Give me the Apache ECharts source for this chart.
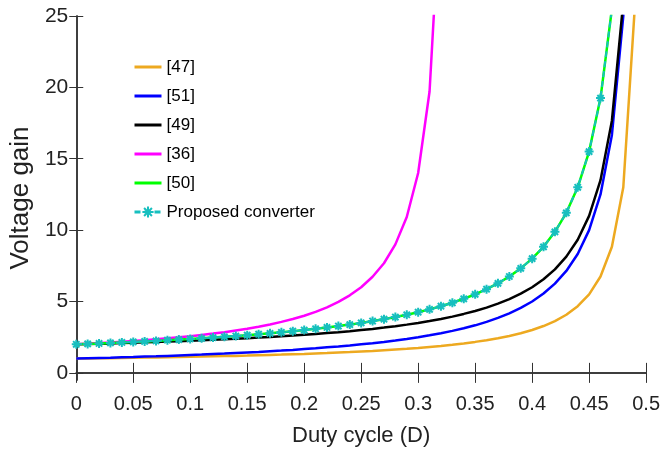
<!DOCTYPE html>
<html>
<head>
<meta charset="utf-8">
<script src="https://cdn.jsdelivr.net/npm/echarts@6/dist/echarts.min.js"></script>
<style>
  html, body { margin: 0; padding: 0; background: #fff; }
  #contain { width: 663px; height: 459px; }
</style>
</head>
<body>
<div id="contain"></div>
<script>
// duty cycle samples, step 0.01
const duty = [0, 0.01, 0.02, 0.03, 0.04, 0.05, 0.06, 0.07, 0.08, 0.09,
  0.10, 0.11, 0.12, 0.13, 0.14, 0.15, 0.16, 0.17, 0.18, 0.19,
  0.20, 0.21, 0.22, 0.23, 0.24, 0.25, 0.26, 0.27, 0.28, 0.29,
  0.30, 0.31, 0.32, 0.33, 0.34, 0.35, 0.36, 0.37, 0.38, 0.39,
  0.40, 0.41, 0.42, 0.43, 0.44, 0.45, 0.46, 0.47, 0.48, 0.49]

const ref47 = [1.00, 1.01, 1.02, 1.03, 1.04, 1.06, 1.07, 1.08, 1.10, 1.11,
  1.13, 1.14, 1.16, 1.18, 1.19, 1.21, 1.24, 1.26, 1.28, 1.31,
  1.33, 1.36, 1.39, 1.43, 1.46, 1.50, 1.54, 1.59, 1.64, 1.69,
  1.75, 1.82, 1.89, 1.97, 2.06, 2.17, 2.29, 2.42, 2.58, 2.77,
  3.00, 3.28, 3.63, 4.07, 4.67, 5.50, 6.75, 8.83, 13.0, 25.5]
const ref51 = [1.00, 1.02, 1.04, 1.06, 1.09, 1.11, 1.14, 1.16, 1.19, 1.22,
  1.25, 1.28, 1.32, 1.35, 1.39, 1.43, 1.47, 1.52, 1.56, 1.61,
  1.67, 1.72, 1.79, 1.85, 1.92, 2.00, 2.08, 2.17, 2.27, 2.38,
  2.50, 2.63, 2.78, 2.94, 3.13, 3.33, 3.57, 3.85, 4.17, 4.55,
  5.00, 5.56, 6.25, 7.14, 8.33, 10.0, 12.5, 16.67, 25.0, 50.0]
const ref49 = [2.00, 2.02, 2.04, 2.06, 2.09, 2.11, 2.14, 2.16, 2.19, 2.22,
  2.25, 2.28, 2.32, 2.35, 2.39, 2.43, 2.47, 2.52, 2.56, 2.61,
  2.67, 2.72, 2.79, 2.85, 2.92, 3.00, 3.08, 3.17, 3.27, 3.38,
  3.50, 3.63, 3.78, 3.94, 4.13, 4.33, 4.57, 4.85, 5.17, 5.55,
  6.00, 6.56, 7.25, 8.14, 9.33, 11.0, 13.5, 17.67, 26.0]
const ref36 = [2.00, 2.04, 2.09, 2.13, 2.18, 2.24, 2.29, 2.35, 2.42, 2.49,
  2.57, 2.66, 2.75, 2.85, 2.97, 3.09, 3.23, 3.39, 3.57, 3.77,
  4.00, 4.27, 4.59, 4.97, 5.43, 6.00, 6.73, 7.68, 9.00, 10.92,
  14.0, 19.71, 34.0]
const ref50 = [2.00, 2.03, 2.06, 2.10, 2.13, 2.17, 2.20, 2.24, 2.29, 2.33,
  2.38, 2.42, 2.47, 2.53, 2.58, 2.64, 2.71, 2.77, 2.84, 2.92,
  3.00, 3.09, 3.18, 3.28, 3.38, 3.50, 3.63, 3.76, 3.91, 4.07,
  4.25, 4.45, 4.67, 4.91, 5.19, 5.50, 5.86, 6.27, 6.75, 7.32,
  8.00, 8.83, 9.88, 11.21, 13.0, 15.5, 19.25, 25.5]
const proposed = [2.00, 2.03, 2.06, 2.10, 2.13, 2.17, 2.20, 2.24, 2.29, 2.33,
  2.38, 2.42, 2.47, 2.53, 2.58, 2.64, 2.71, 2.77, 2.84, 2.92,
  3.00, 3.09, 3.18, 3.28, 3.38, 3.50, 3.63, 3.76, 3.91, 4.07,
  4.25, 4.45, 4.67, 4.91, 5.19, 5.50, 5.86, 6.27, 6.75, 7.32,
  8.00, 8.83, 9.88, 11.21, 13.0, 15.5, 19.25, 25.5]

const yTicks = [0, 5, 10, 15, 20, 25]

const pairs = (vals) => vals.map((v, i) => [duty[i], v])

const font = '"Liberation Sans", Arial, sans-serif'
const axisColor = '#333'

let myChart = echarts.init(document.getElementById('contain'))

const lineSeries = (name, vals, color) => ({
  name: name,
  type: 'line',
  data: pairs(vals),
  symbol: 'none',
  lineStyle: { color: color, width: 2.5 },
  itemStyle: { color: color },
  z: 2
})

// plain lines: hide the legend's default symbol dot
const plainItem = (name) => ({ name: name, itemStyle: { opacity: 0 } })

let option = {
  animation: false,
  grid: { left: 68, right: 11, top: 16, bottom: 79 },
  legend: {
    orient: 'vertical',
    left: 133,
    top: 57,
    padding: 0,
    itemWidth: 27,
    itemHeight: 14,
    itemGap: 9,
    lineStyle: { width: 3 },
    textStyle: { fontFamily: font, fontSize: 17, color: '#000', lineHeight: 20 },
    data: [plainItem('[47]'), plainItem('[51]'), plainItem('[49]'), plainItem('[36]'),
      plainItem('[50]'), { name: 'Proposed converter' }]
  },
  xAxis: [{
    type: 'value',
    min: 0,
    max: 0.5,
    interval: 0.05,
    name: 'Duty cycle (D)',
    nameLocation: 'middle',
    nameGap: 45,
    nameTextStyle: { fontFamily: font, fontSize: 22, color: '#222' },
    axisLine: { lineStyle: { color: axisColor, width: 1.5 } },
    axisTick: { inside: true, length: 10, lineStyle: { color: axisColor } },
    axisLabel: { fontFamily: font, fontSize: 20, color: '#222', margin: 14 },
    splitLine: { show: false }
  }, {
    type: 'value',
    position: 'top',
    min: 0,
    max: 0.5,
    interval: 0.05,
    axisLine: { lineStyle: { color: axisColor, width: 1.5 } },
    axisTick: { inside: true, length: 10, lineStyle: { color: axisColor } },
    axisLabel: { show: false },
    splitLine: { show: false }
  }],
  yAxis: [{
    type: 'value',
    min: -0.5,
    max: 25,
    name: 'Voltage gain',
    nameLocation: 'middle',
    nameGap: 25,
    nameTextStyle: { fontFamily: font, fontSize: 26, color: '#222' },
    axisLine: { show: true, lineStyle: { color: axisColor, width: 1.5 } },
    axisTick: { show: true, inside: true, length: 7, customValues: yTicks, lineStyle: { color: axisColor } },
    axisLabel: { fontFamily: font, fontSize: 21, color: '#222', margin: 8, customValues: yTicks },
    splitLine: { show: false }
  }, {
    type: 'value',
    position: 'right',
    min: -0.5,
    max: 25,
    axisLine: { show: true, lineStyle: { color: axisColor, width: 1.5 } },
    axisTick: { show: true, inside: true, length: 7, customValues: yTicks, lineStyle: { color: axisColor } },
    axisLabel: { show: false },
    splitLine: { show: false }
  }],
  series: [
    lineSeries('[47]', ref47, '#EDA920'),
    lineSeries('[51]', ref51, '#0000FF'),
    lineSeries('[49]', ref49, '#000000'),
    lineSeries('[36]', ref36, '#FF00FF'),
    lineSeries('[50]', ref50, '#00FF00'),
    {
      name: 'Proposed converter',
      type: 'line',
      data: pairs(proposed),
      symbol: 'path://M0,5L10,5M1.5,1.5L8.5,8.5M1.5,8.5L8.5,1.5M5,0L5,10',
      symbolSize: 9,
      showAllSymbol: true,
      lineStyle: { color: '#17BFBF', width: 2, type: [6, 4] },
      itemStyle: { color: '#17BFBF', borderColor: '#17BFBF', borderWidth: 2 },
      z: 3
    }
  ]
}

option && myChart.setOption(option)
</script>
</body>
</html>
